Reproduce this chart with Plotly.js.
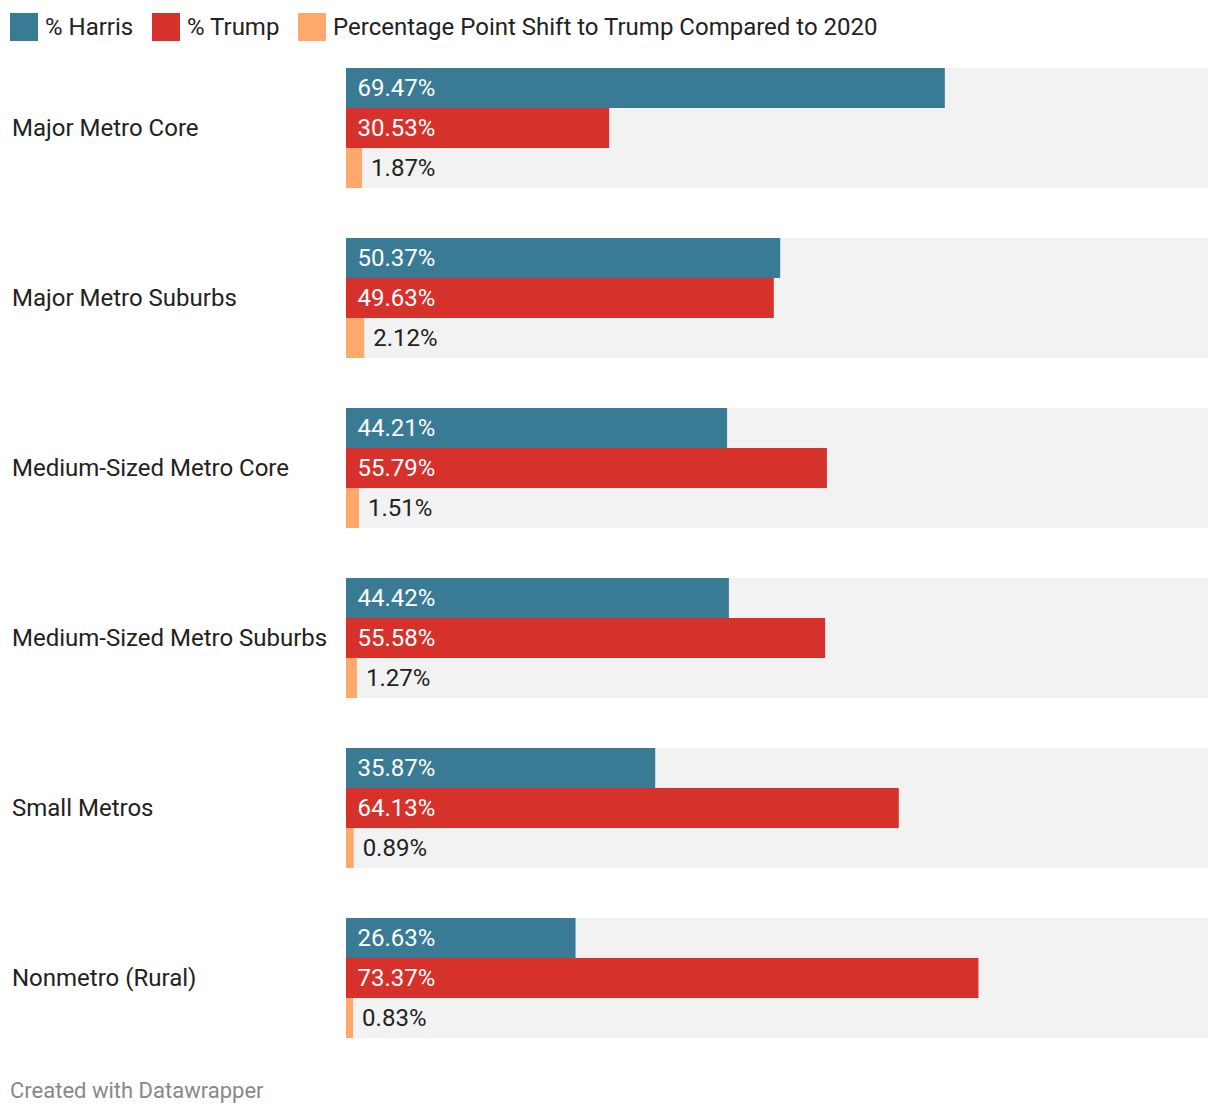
<!DOCTYPE html>
<html>
<head>
<meta charset="utf-8">
<script src="https://cdn.plot.ly/plotly-3.0.1.min.js"></script>
<style>html,body{margin:0;padding:0;background:#fff;}#chart{width:1220px;height:1116px;}</style>
</head>
<body>
<div id="chart"></div>
<script>
const categories = ["Major Metro Core", "Major Metro Suburbs", "Medium-Sized Metro Core", "Medium-Sized Metro Suburbs", "Small Metros", "Nonmetro (Rural)"];
const harris = [69.47, 50.37, 44.21, 44.42, 35.87, 26.63];
const trump = [30.53, 49.63, 55.79, 55.58, 64.13, 73.37];
const shift = [1.87, 2.12, 1.51, 1.27, 0.89, 0.83];
const fullScale = [100, 100, 100, 100, 100, 100];
const seriesNames = ["% Harris", "% Trump", "Percentage Point Shift to Trump Compared to 2020"];
const footerText = "Created with Datawrapper";

const colors = ["#397a94", "#d7312b", "#fea96c"];
const FONT = "Roboto, 'Open Sans', sans-serif";
const FS = 24;
const slot = 40 / 170;
const fmtIn = v => "\u00a0\u200a" + v.toFixed(2) + "%";
const fmtOut = v => "\u00a0" + v.toFixed(2) + "%";

const traces = [
  {type: "bar", orientation: "h", y: categories, x: fullScale, width: 3 * slot, offset: -1.5 * slot,
   marker: {color: "#f2f2f2"}, hoverinfo: "skip", showlegend: false},
  {type: "bar", orientation: "h", y: categories, x: harris, width: slot, offset: -1.5 * slot,
   marker: {color: colors[0]}, name: seriesNames[0], text: harris.map(fmtIn), textposition: "inside",
   insidetextanchor: "start", textfont: {color: "#ffffff", size: FS, family: FONT}, constraintext: "none", hoverinfo: "skip"},
  {type: "bar", orientation: "h", y: categories, x: trump, width: slot, offset: -0.5 * slot,
   marker: {color: colors[1]}, name: seriesNames[1], text: trump.map(fmtIn), textposition: "inside",
   insidetextanchor: "start", textfont: {color: "#ffffff", size: FS, family: FONT}, constraintext: "none", hoverinfo: "skip"},
  {type: "bar", orientation: "h", y: categories, x: shift, width: slot, offset: 0.5 * slot,
   marker: {color: colors[2]}, name: seriesNames[2], text: shift.map(fmtOut), textposition: "outside",
   textfont: {color: "#222222", size: FS, family: FONT}, constraintext: "none", cliponaxis: false, hoverinfo: "skip"}
];

const annotations = categories.map(c => ({
  xref: "paper", yref: "y", x: 0, y: c, xshift: -336, xanchor: "left", yanchor: "middle",
  text: c, showarrow: false, font: {size: FS, color: "#222222", family: FONT}
}));

// legend (drawn manually for large swatches)
const legendX = [10, 152, 298];
const shapes = [];
legendX.forEach((lx, i) => {
  shapes.push({type: "rect", xref: "paper", yref: "paper",
    x0: (lx - 346) / 862, x1: (lx + 28 - 346) / 862,
    y0: 1 + (43 - 41) / 1020, y1: 1 + (43 - 13) / 1020,
    fillcolor: colors[i], line: {width: 0}});
  annotations.push({xref: "paper", yref: "paper", x: (lx + 33 - 346) / 862, y: 1 + (43 - 27) / 1020,
    xanchor: "left", yanchor: "middle", text: seriesNames[i], showarrow: false,
    font: {size: FS, color: "#222222", family: FONT}});
});
annotations.push({xref: "paper", yref: "paper", x: (8 - 346) / 862, y: -(1090 - 1063) / 1020,
  xanchor: "left", yanchor: "middle", text: footerText, showarrow: false,
  font: {size: 22, color: "#888888", family: FONT}});

const layout = {
  width: 1220, height: 1116,
  margin: {l: 346, r: 12, t: 43, b: 53, pad: 0},
  paper_bgcolor: "#ffffff", plot_bgcolor: "#ffffff",
  barmode: "overlay",
  showlegend: false,
  font: {family: FONT, size: FS, color: "#222222"},
  xaxis: {range: [0, 100], visible: false, fixedrange: true},
  yaxis: {type: "category", range: [5.5, -0.5], showticklabels: false, showgrid: false, zeroline: false, showline: false, ticks: "", fixedrange: true},
  shapes: shapes,
  annotations: annotations
};

Plotly.newPlot("chart", traces, layout, {displayModeBar: false, staticPlot: true});
</script>
</body>
</html>
